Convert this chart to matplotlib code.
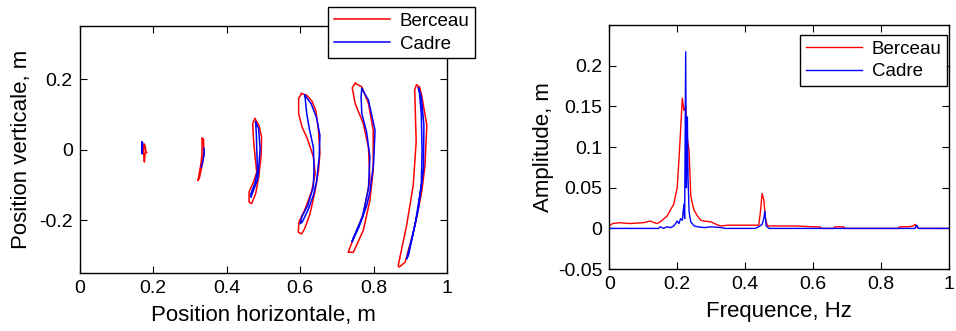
import matplotlib
matplotlib.use('Agg')
import matplotlib.pyplot as plt

plt.rcParams['font.family'] = ['Liberation Sans', 'DejaVu Sans']
plt.rcParams['axes.unicode_minus'] = False

# trajectoires (x, y) en m
berceau_loop1 = [(0.175, 0.015), (0.178, 0.012), (0.180, -0.005), (0.183, -0.008), (0.178, -0.010),
                 (0.176, -0.035), (0.174, -0.010), (0.175, 0.015)]
cadre_loop1 = [(0.169, 0.022), (0.170, -0.012), (0.171, 0.020)]
berceau_loop2 = [(0.333, 0.032), (0.337, 0.030), (0.338, -0.010), (0.334, -0.040), (0.330, -0.060),
                 (0.326, -0.080), (0.322, -0.088), (0.325, -0.070), (0.330, -0.040), (0.333, -0.010),
                 (0.333, 0.032)]
cadre_loop2 = [(0.338, 0.004), (0.339, -0.012), (0.335, -0.034), (0.331, -0.050)]
berceau_loop3 = [(0.477, 0.088), (0.488, 0.069), (0.495, 0.036), (0.494, -0.016), (0.488, -0.073),
                 (0.479, -0.125), (0.468, -0.153), (0.461, -0.149), (0.461, -0.120), (0.473, -0.092),
                 (0.482, -0.064), (0.477, -0.016), (0.473, 0.031), (0.471, 0.074), (0.477, 0.088)]
cadre_loop3 = [(0.479, 0.078), (0.487, 0.060), (0.491, 0.003), (0.487, -0.060), (0.484, -0.085),
               (0.475, -0.110), (0.466, -0.135), (0.466, -0.125), (0.477, -0.095), (0.484, -0.060),
               (0.482, 0.000), (0.481, 0.040), (0.479, 0.078)]
berceau_loop4 = [(0.604, 0.159), (0.618, 0.154), (0.632, 0.138), (0.643, 0.110), (0.650, 0.055),
                 (0.654, -0.010), (0.650, -0.060), (0.641, -0.116), (0.627, -0.182), (0.612, -0.225),
                 (0.604, -0.239), (0.595, -0.234), (0.597, -0.205), (0.615, -0.165), (0.632, -0.116),
                 (0.641, -0.068), (0.636, -0.020), (0.620, 0.030), (0.605, 0.065), (0.596, 0.102),
                 (0.596, 0.145), (0.604, 0.159)]
cadre_loop4 = [(0.613, 0.154), (0.630, 0.130), (0.645, 0.090), (0.654, 0.040), (0.652, -0.020),
               (0.645, -0.090), (0.636, -0.130), (0.622, -0.170), (0.606, -0.205), (0.600, -0.210),
               (0.605, -0.190), (0.620, -0.160), (0.636, -0.106), (0.638, -0.050), (0.636, 0.007),
               (0.625, 0.060), (0.618, 0.102), (0.613, 0.154)]
berceau_loop5 = [(0.750, 0.188), (0.768, 0.178), (0.786, 0.131), (0.799, 0.055), (0.799, -0.059),
                 (0.790, -0.144), (0.772, -0.229), (0.745, -0.291), (0.731, -0.291), (0.736, -0.277),
                 (0.772, -0.182), (0.790, -0.087), (0.786, 0.007), (0.772, 0.074), (0.750, 0.130),
                 (0.742, 0.175), (0.750, 0.188)]
cadre_loop5 = [(0.768, 0.173), (0.786, 0.140), (0.804, 0.055), (0.800, -0.040), (0.790, -0.120),
               (0.781, -0.160), (0.760, -0.220), (0.741, -0.262), (0.745, -0.250), (0.770, -0.190),
               (0.786, -0.110), (0.790, -0.021), (0.781, 0.050), (0.768, 0.102), (0.766, 0.150),
               (0.768, 0.173)]
berceau_loop6 = [(0.917, 0.183), (0.925, 0.178), (0.931, 0.154), (0.945, 0.069), (0.940, -0.045),
                 (0.931, -0.120), (0.913, -0.215), (0.886, -0.319), (0.870, -0.333), (0.867, -0.329),
                 (0.890, -0.215), (0.908, -0.101), (0.916, 0.022), (0.913, 0.135), (0.912, 0.170),
                 (0.917, 0.183)]
cadre_loop6 = [(0.922, 0.175), (0.930, 0.150), (0.937, 0.069), (0.936, -0.054), (0.922, -0.168),
               (0.905, -0.250), (0.890, -0.310), (0.895, -0.300), (0.915, -0.200), (0.930, -0.100),
               (0.932, 0.000), (0.930, 0.100), (0.925, 0.160), (0.922, 0.175)]

berceau_loops = [berceau_loop1, berceau_loop2, berceau_loop3, berceau_loop4, berceau_loop5, berceau_loop6]
cadre_loops = [cadre_loop1, cadre_loop2, cadre_loop3, cadre_loop4, cadre_loop5, cadre_loop6]

# spectres
freq_berceau = [0, 0.01, 0.03, 0.06, 0.10, 0.12, 0.14, 0.15, 0.17, 0.19, 0.20, 0.205, 0.21, 0.215,
                0.22, 0.225, 0.23, 0.235, 0.24, 0.245, 0.25, 0.26, 0.27, 0.28, 0.30, 0.32, 0.33,
                0.35, 0.40, 0.44, 0.445, 0.45, 0.455, 0.46, 0.465, 0.47, 0.52, 0.55, 0.60, 0.62,
                0.625, 0.66, 0.665, 0.69, 0.695, 0.85, 0.855, 0.88, 0.895, 0.90, 0.905, 0.91, 1.0]
amp_berceau = [0.003, 0.006, 0.007, 0.006, 0.007, 0.009, 0.006, 0.008, 0.015, 0.030, 0.050, 0.083,
               0.120, 0.160, 0.145, 0.150, 0.110, 0.095, 0.040, 0.030, 0.022, 0.015, 0.010, 0.009,
               0.008, 0.004, 0.003, 0.004, 0.004, 0.004, 0.020, 0.043, 0.035, 0.012, 0.004, 0.003,
               0.003, 0.003, 0.002, 0.002, 0, 0, 0.002, 0.002, 0, 0, 0.002, 0.002, 0.003, 0.005,
               0.002, 0, 0]
freq_cadre = [0, 0.145, 0.15, 0.16, 0.17, 0.18, 0.19, 0.20, 0.205, 0.21, 0.215, 0.22, 0.222, 0.225,
              0.227, 0.23, 0.232, 0.235, 0.24, 0.25, 0.26, 0.28, 0.30, 0.33, 0.34, 0.43, 0.44, 0.45,
              0.455, 0.458, 0.462, 0.47, 0.90, 0.905, 0.91, 1.0]
amp_cadre = [0, 0, 0.002, 0, 0.002, 0.001, 0.003, 0.009, 0.006, 0.012, 0.010, 0.030, 0.012, 0.217,
             0.050, 0.137, 0.060, 0.020, 0.008, 0.003, 0.002, 0.001, 0.002, 0.001, 0, 0, 0.002,
             0.005, 0.012, 0.021, 0.003, 0, 0, 0.004, 0, 0]

xticks = [0, 0.2, 0.4, 0.6, 0.8, 1]
xticklabels = ['0', '0.2', '0.4', '0.6', '0.8', '1']
yticks_pos = [-0.2, 0, 0.2]
yticklabels_pos = ['-0.2', '0', '0.2']
yticks_amp = [-0.05, 0, 0.05, 0.1, 0.15, 0.2]
yticklabels_amp = ['-0.05', '0', '0.05', '0.1', '0.15', '0.2']

fig = plt.figure(figsize=(9.56, 3.31), dpi=100)
ax1 = fig.add_axes([0.0834, 0.175, 0.3842, 0.746])
ax2 = fig.add_axes([0.6373, 0.187, 0.3553, 0.7375])

for i, loop in enumerate(berceau_loops):
    xs = [p[0] for p in loop]
    ys = [p[1] for p in loop]
    ax1.plot(xs, ys, color='#ff0000', lw=1.1, label='Berceau' if i == 0 else None)
for i, loop in enumerate(cadre_loops):
    xs = [p[0] for p in loop]
    ys = [p[1] for p in loop]
    ax1.plot(xs, ys, color='#0000ff', lw=1.1, label='Cadre' if i == 0 else None)

ax2.plot(freq_berceau, amp_berceau, color='#ff0000', lw=1.0, label='Berceau')
ax2.plot(freq_cadre, amp_cadre, color='#0000ff', lw=1.0, label='Cadre')

ax1.set_xlim(0, 1)
ax1.set_ylim(-0.35, 0.35)
ax1.set_xticks(xticks)
ax1.set_xticklabels(xticklabels)
ax1.set_yticks(yticks_pos)
ax1.set_yticklabels(yticklabels_pos)
ax1.set_xlabel('Position horizontale, m', fontsize=16, labelpad=6)
ax1.set_ylabel('Position verticale, m', fontsize=16, labelpad=5)

ax2.set_xlim(0, 1)
ax2.set_ylim(-0.05, 0.25)
ax2.set_xticks(xticks)
ax2.set_xticklabels(xticklabels)
ax2.set_yticks(yticks_amp)
ax2.set_yticklabels(yticklabels_amp)
ax2.set_xlabel('Frequence, Hz', fontsize=16, labelpad=6)
ax2.set_ylabel('Amplitude, m', fontsize=16, labelpad=3)

for ax in (ax1, ax2):
    ax.tick_params(direction='in', length=5, width=0.8, labelsize=14, top=True, right=True, pad=5)
    for s in ax.spines.values():
        s.set_linewidth(1.0)

leg1 = ax1.legend(loc='upper right', bbox_to_anchor=(1.076, 1.077), fontsize=13.5, handlelength=3.0,
                  fancybox=False, framealpha=1, edgecolor='black', borderpad=0.3, labelspacing=0.3,
                  handletextpad=0.5, borderaxespad=0)
leg1.get_frame().set_linewidth(1.0)
leg2 = ax2.legend(loc='upper right', bbox_to_anchor=(0.994, 0.959), fontsize=13.5, handlelength=3.0,
                  fancybox=False, framealpha=1, edgecolor='black', borderpad=0.3, labelspacing=0.3,
                  handletextpad=0.5, borderaxespad=0)
leg2.get_frame().set_linewidth(1.0)

fig.savefig('out.png', dpi=100)
